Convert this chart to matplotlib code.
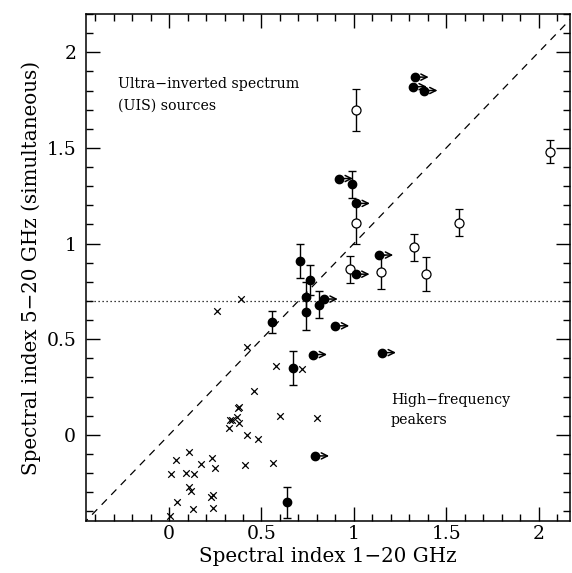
import numpy as np
import matplotlib
matplotlib.use("Agg")
import matplotlib.pyplot as plt
from matplotlib.ticker import MultipleLocator, FuncFormatter

# crosses: sources without separate error bars
cross_x = [0.39, 0.26, 0.42, 0.58, 0.46, 0.38, 0.375, 0.37, 0.33, 0.34, 0.38, 0.325,
           0.42, 0.60, 0.48, 0.56, 0.41, 0.11, 0.035, 0.23, 0.175, 0.25, 0.01, 0.09,
           0.135, 0.105, 0.12, 0.225, 0.24, 0.045, 0.13, 0.235, 0.005, 0.72, 0.80]
cross_y = [0.71, 0.65, 0.46, 0.36, 0.23, 0.145, 0.14, 0.095, 0.08, 0.08, 0.06, 0.035,
           0.0, 0.10, -0.02, -0.145, -0.16, -0.09, -0.13, -0.12, -0.15, -0.175, -0.205, -0.20,
           -0.205, -0.275, -0.295, -0.325, -0.315, -0.35, -0.385, -0.38, -0.425, 0.345, 0.09]

# filled circles with error bars
fill_x = [0.558, 0.67, 0.638, 0.71, 0.76, 0.74, 0.74, 0.81, 0.992]
fill_y = [0.59, 0.35, -0.352, 0.91, 0.81, 0.72, 0.64, 0.68, 1.31]
fill_err = [0.06, 0.09, 0.08, 0.09, 0.08, 0.08, 0.09, 0.07, 0.07]

# filled circles, lower limits in x
lim_x = [1.33, 1.32, 1.378, 0.92, 1.012, 1.138, 1.01, 0.838, 0.90, 0.78, 1.153, 0.791]
lim_y = [1.87, 1.82, 1.80, 1.34, 1.21, 0.94, 0.84, 0.71, 0.57, 0.42, 0.43, -0.11]

# open circles with error bars
open_x = [1.01, 1.01, 0.98, 1.147, 1.328, 1.389, 1.57, 2.06]
open_y = [1.70, 1.11, 0.866, 0.85, 0.98, 0.84, 1.11, 1.48]
open_err = [0.11, 0.11, 0.07, 0.09, 0.07, 0.09, 0.07, 0.06]

plt.rcParams['font.family'] = 'DejaVu Serif'
plt.rcParams['mathtext.fontset'] = 'dejavuserif'

fig = plt.figure(figsize=(5.72, 5.73), dpi=100)
ax = fig.add_axes([0.1503, 0.0908, 0.8462, 0.8848])

xlo, xhi = -0.45, 2.17
ylo, yhi = -0.45, 2.20

# reference lines
ax.plot([-1, 3], [-1, 3], color='black', lw=0.9, ls=(0, (6, 5)))
ax.axhline(0.7, color='black', lw=0.9, ls=(0, (1, 2.2)))

ax.scatter(cross_x, cross_y, marker='x', s=22, color='black', lw=0.9, zorder=3)

ax.errorbar(fill_x, fill_y, yerr=fill_err, fmt='o', color='black', ms=6,
            capsize=3, elinewidth=1, capthick=1, zorder=4)
ax.errorbar(open_x, open_y, yerr=open_err, fmt='o', color='black', mfc='white',
            mec='black', ms=6.5, mew=0.9, capsize=3, elinewidth=1, capthick=1, zorder=4)

ax.plot(lim_x, lim_y, 'o', color='black', ms=6, zorder=5)
for x, y in zip(lim_x, lim_y):
    ax.annotate('', xy=(x + 0.075, y), xytext=(x, y),
                arrowprops=dict(arrowstyle='->', color='black', lw=1.1,
                                mutation_scale=11, shrinkA=0, shrinkB=0),
                zorder=5)

ax.text(-0.275, 1.835, 'Ultra\u2212inverted spectrum', fontsize=10.2, va='center')
ax.text(-0.275, 1.72, '(UIS) sources', fontsize=10.2, va='center')
ax.text(1.2, 0.183, 'High\u2212frequency', fontsize=10.2, va='center')
ax.text(1.2, 0.078, 'peakers', fontsize=10.2, va='center')

ax.set_xlim(xlo, xhi)
ax.set_ylim(ylo, yhi)
ax.xaxis.set_major_locator(MultipleLocator(0.5))
ax.xaxis.set_minor_locator(MultipleLocator(0.1))
ax.yaxis.set_major_locator(MultipleLocator(0.5))
ax.yaxis.set_minor_locator(MultipleLocator(0.1))
fmt = FuncFormatter(lambda v, p: '%g' % round(v, 2))
ax.xaxis.set_major_formatter(fmt)
ax.yaxis.set_major_formatter(fmt)
ax.tick_params(which='both', direction='in', top=True, right=True, width=1)
ax.tick_params(which='major', length=10, labelsize=13.5)
ax.tick_params(axis='x', which='major', pad=3)
ax.tick_params(axis='y', which='major', pad=7)
ax.tick_params(which='minor', length=5)
for sp in ax.spines.values():
    sp.set_linewidth(1.1)

ax.set_xlabel('Spectral index 1\u221220 GHz', fontsize=14.3, labelpad=3)
ax.set_ylabel('Spectral index 5\u221220 GHz (simultaneous)', fontsize=14.3, labelpad=4)

fig.savefig('out.png', dpi=100)
